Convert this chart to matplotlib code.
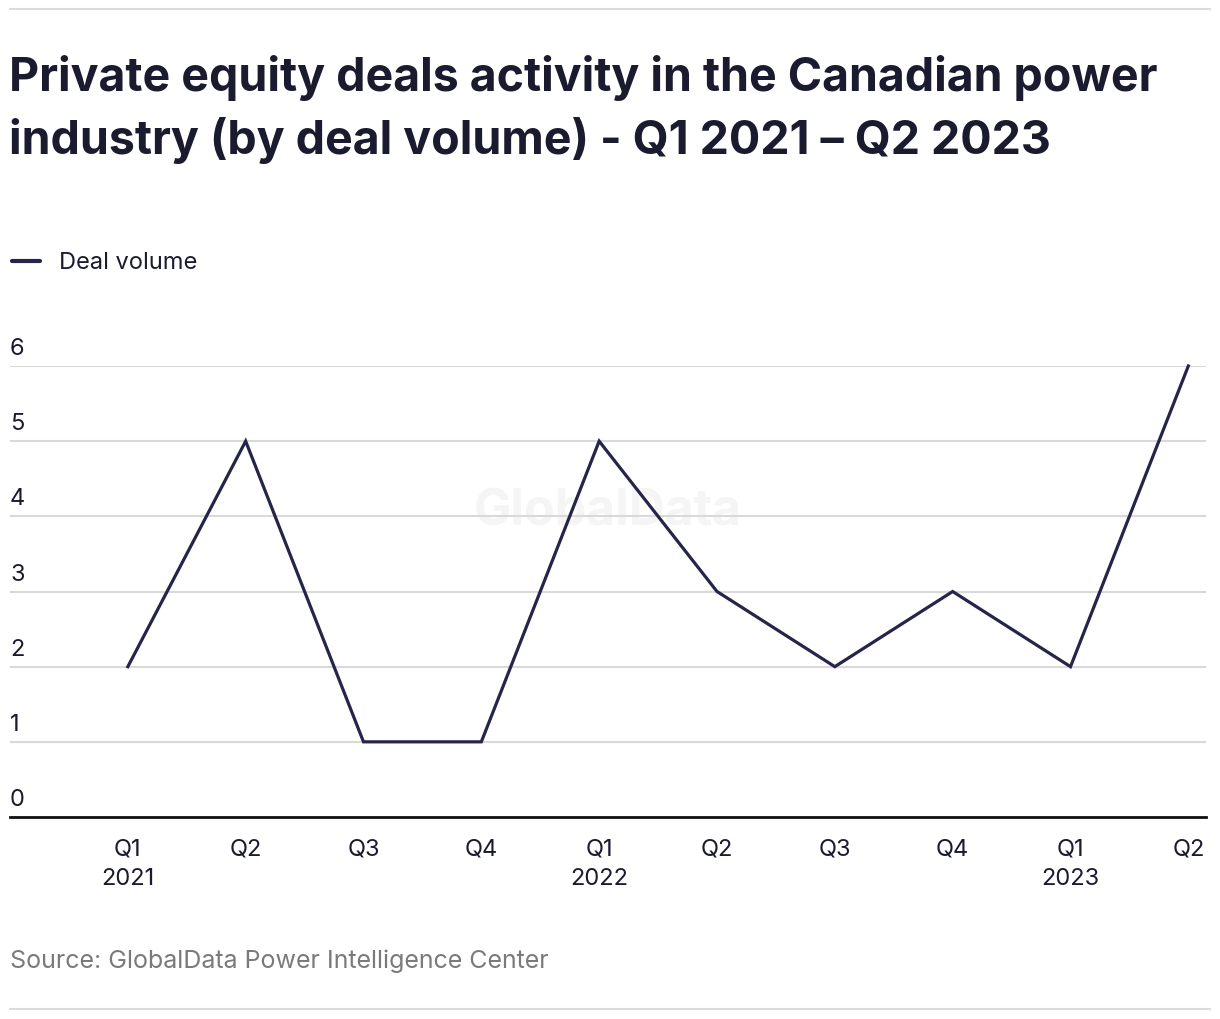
import matplotlib
matplotlib.use("Agg")
import matplotlib.pyplot as plt
from matplotlib.lines import Line2D

quarters = ["Q1\n2021", "Q2", "Q3", "Q4", "Q1\n2022", "Q2", "Q3", "Q4", "Q1\n2023", "Q2"]
deal_volume = [2, 5, 1, 1, 5, 3, 2, 3, 2, 6]
y_ticks = [0, 1, 2, 3, 4, 5, 6]

title = "Private equity deals activity in the Canadian power\nindustry (by deal volume) - Q1 2021 – Q2 2023"
source = "Source: GlobalData Power Intelligence Center"

W, H = 1220, 1020
fig = plt.figure(figsize=(W / 100, H / 100), dpi=100)
fig.patch.set_facecolor("white")
plt.rcParams["font.family"] = ["Inter", "DejaVu Sans"]

def fx(px):
    return px / W

def fy(py):
    return 1 - py / H

text_col = "#1b1b2f"
line_col = "#25254a"

# top / bottom separators
fig.add_artist(Line2D([fx(10), fx(1210)], [fy(10), fy(10)], color="#dcdcdc", lw=1.5))
fig.add_artist(Line2D([fx(10), fx(1210)], [fy(1010), fy(1010)], color="#dcdcdc", lw=1.5))

fig.text(fx(9), fy(55), title, fontsize=33.5, fontweight="bold", color=text_col,
         va="top", ha="left", linespacing=1.44)

# legend
fig.add_artist(Line2D([fx(12), fx(40)], [fy(262), fy(262)], color=line_col, lw=3,
                      solid_capstyle="round"))
fig.text(fx(59), fy(263), "Deal volume", fontsize=17, color=text_col, va="center", ha="left")

ax = fig.add_axes([fx(10), fy(818), fx(1206) - fx(10), fy(367) - fy(818)])
ax.set_xlim(-1, 9.15)
ax.set_ylim(0, 6)
for s in ax.spines.values():
    s.set_visible(False)
ax.set_xticks([])
ax.set_yticks([])

for v in y_ticks[1:]:
    ax.axhline(v, color="#d9d9d9", lw=1.5, zorder=1)
ax.axhline(0, color="#111111", lw=2, zorder=3, clip_on=False)
for v in y_ticks:
    ax.annotate(str(v), xy=(0, v), xycoords=("axes fraction", "data"),
                xytext=(0, 5), textcoords="offset points",
                fontsize=17, color=text_col, ha="left", va="bottom")

x = list(range(len(deal_volume)))
ax.plot(x, deal_volume, color=line_col, lw=2.3, zorder=4, clip_on=False,
        solid_joinstyle="miter")

for i, lab in enumerate(quarters):
    ax.annotate(lab, xy=(i, 0), xycoords="data", xytext=(0, -15),
                textcoords="offset points", fontsize=17, color=text_col,
                ha="center", va="top", linespacing=1.45, annotation_clip=False)

ax.text(0.5, 0.678, "GlobalData", transform=ax.transAxes, fontsize=36,
        fontweight="bold", color="#f5f5f5", ha="center", va="center", zorder=0)

fig.text(fx(10), fy(961), source, fontsize=18, color="#7a7a7a", va="center", ha="left")

fig.savefig("out.png", dpi=100, facecolor="white")
